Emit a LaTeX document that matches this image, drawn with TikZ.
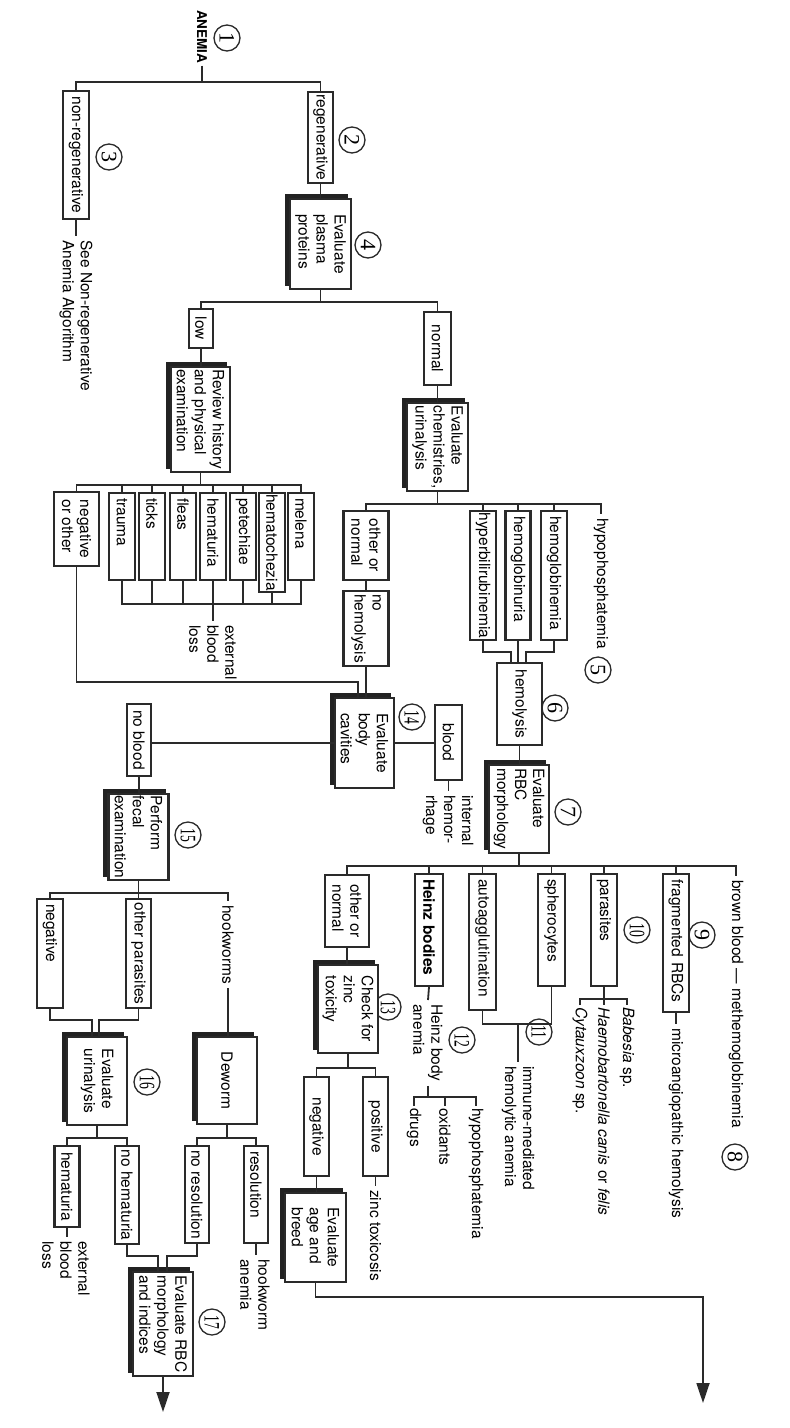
\documentclass[tikz,border=0pt]{standalone}
\usepackage{fontspec}
\setmainfont{TeX Gyre Heros}
\newfontfamily\numfont{Liberation Serif}
\usetikzlibrary{arrows.meta}
\definecolor{ink}{HTML}{2A2A2A}
\definecolor{shd}{HTML}{222222}
\newcommand{\lab}{\fontsize{15.5}{18}\selectfont}
\newcommand{\nf}{\numfont\fontsize{22}{22}\selectfont}
\newcommand{\dd}[1]{\scalebox{0.62}[1]{#1}}
\begin{document}
\begin{tikzpicture}[x=1pt,y=-1pt,
  ln/.style={draw=ink, line width=1.8pt},
  box/.style={draw=ink, line width=2.2pt, fill=white, rotate=-90, inner xsep=3pt, inner ysep=1pt, align=left, font=\lab},
  lbox/.style={box, inner xsep=5pt},
  sbox/.style={box, preaction={fill=shd, draw=shd, transform canvas={shift={(-4pt,4pt)}}}},
  txt/.style={rotate=-90, anchor=west, align=left, inner xsep=4pt, inner ysep=1pt, font=\lab},
  num/.style={circle, draw=ink, line width=1.3pt, minimum size=26pt, inner sep=0pt, rotate=-90, font=\nf},
  tip/.style={-{Triangle[length=20pt,width=13pt]}}
]
\fill[white] (0,0) rectangle (790,1428);
\useasboundingbox (0,0) rectangle (790,1428);

% ---------- top
\node[txt, font=\fontsize{13.5}{16}\selectfont\bfseries, inner xsep=2pt] (anemia) at (202,8) {ANEMIA};
\node[num] (n1) at (227,38) {1};
\coordinate (b1) at (202,82);
\node[box, minimum width=128pt, minimum height=26pt] (nonreg) at (76,155) {non-regenerative};
\node[num] (n3) at (109,157) {3};
\node[txt] (seenr) at (76,236) {See Non-regenerative\\Anemia Algorithm};
\node[box, inner xsep=1.5pt, minimum width=91pt, minimum height=25pt] (reg) at (320.5,137.5) {regenerative};
\node[num] (n2) at (352,140) {2};
\node[sbox, minimum width=90pt, minimum height=61pt] (plasma) at (320.5,244) {Evaluate\\plasma\\proteins};
\node[num] (n4) at (368,245) {4};
\coordinate (b4) at (320.5,302);
\node[box, minimum width=39pt, minimum height=24pt] (low) at (201,328.5) {low};
\node[box, minimum width=73pt, minimum height=27pt] (normal) at (437.5,348.5) {normal};

% ---------- low branch
\node[sbox, inner xsep=1.5pt, minimum width=105pt, minimum height=59pt] (review) at (200.5,419.5) {Review history\\and physical\\examination};
\coordinate (b5) at (200.5,485);
\node[box, minimum width=74pt, minimum height=45pt] (negoth) at (76.5,529) {negative\\or other};
\node[lbox, minimum width=87pt, text width=77pt, minimum height=26pt] (trauma) at (122,536.5) {trauma};
\node[lbox, minimum width=87pt, text width=77pt, minimum height=26pt] (ticks) at (152,536.5) {ticks};
\node[lbox, minimum width=87pt, text width=77pt, minimum height=26pt] (fleas) at (183,536.5) {fleas};
\node[lbox, minimum width=87pt, text width=77pt, minimum height=26pt] (hematuria) at (213,536.5) {hematuria};
\node[lbox, minimum width=87pt, text width=77pt, minimum height=26pt] (petechiae) at (243,536.5) {petechiae};
\node[box, inner xsep=1pt, minimum width=99pt, minimum height=26pt] (hematochezia) at (272,542.5) {hematochezia};
\node[lbox, minimum width=87pt, text width=77pt, minimum height=26pt] (melena) at (301,536.5) {melena};
\coordinate (b6) at (213,604);
\node[txt] (ext1) at (213,621) {external\\blood\\loss};
\coordinate (c1) at (358,682);

% ---------- normal branch
\node[sbox, minimum width=88pt, minimum height=61pt] (chem) at (437.5,447) {Evaluate\\chemistries,\\urinalysis};
\coordinate (b10) at (437.5,504);
\node[box, minimum width=69pt, minimum height=45pt] (oon1) at (366,545.5) {other or\\normal};
\node[box, minimum width=73pt, minimum height=45pt] (nohem) at (366,628.5) {no\\hemolysis};
\node[box, inner xsep=1.5pt, minimum width=129pt, minimum height=26pt] (hyperb) at (483,575.5) {hyperbilirubinemia};
\node[lbox, minimum width=129pt, text width=119pt, minimum height=25pt] (hemu) at (518,575.5) {hemoglobinuria};
\node[lbox, minimum width=129pt, text width=119pt, minimum height=26pt] (hemn) at (554,575.5) {hemoglobinemia};
\node[txt] (hypo) at (601,514) {hypophosphatemia};
\node[num] (n5) at (598,670) {5};
\coordinate (h1) at (511,652);
\coordinate (h2) at (526,652);
\node[box, minimum width=82pt, minimum height=45pt] (hemol) at (519.5,704) {hemolysis};
\node[num] (n6) at (555,708) {6};
\node[sbox, minimum width=88pt, minimum height=60pt] (rbcm) at (519,809) {Evaluate\\RBC\\morphology};
\node[num] (n7) at (568,812) {7};

% ---------- body cavities
\node[sbox, minimum width=90pt, minimum height=59pt] (body) at (364.5,743) {Evaluate\\body\\cavities};
\node[num] (n14) at (412,717) {\dd{14}};
\node[box, minimum width=75pt, minimum height=27pt] (blood) at (448.5,742.5) {blood};
\node[txt] (intern) at (448,791) {internal\\hemor-\\rhage};
\node[box, minimum width=72pt, minimum height=24pt] (noblood) at (139,740) {no blood};
\node[sbox, inner xsep=1pt, minimum width=86pt, minimum height=60pt] (fecal) at (138.5,837) {Perform\\fecal\\examination};
\node[num] (n15) at (188,835) {\dd{15}};
\coordinate (b7) at (138.5,893);
\node[lbox, minimum width=109pt, text width=99pt, minimum height=26pt] (fneg) at (50,953.5) {negative};
\node[box, minimum width=109pt, minimum height=25pt] (opar) at (138.5,953.5) {other parasites};
\node[txt] (hook) at (228,901) {hookworms};
\coordinate (m1) at (92,1020);
\coordinate (m2) at (99,1020);
\node[sbox, minimum width=88pt, minimum height=60pt] (urin) at (97,1081) {Evaluate\\urinalysis};
\node[num] (n16) at (147,1082) {\dd{16}};
\coordinate (b8) at (97,1138);
\node[box, minimum width=81pt, minimum height=25pt] (uhem) at (67,1186.5) {hematuria};
\node[box, minimum width=98pt, minimum height=24pt] (unoh) at (127,1195) {no hematuria};
\node[txt] (ext2) at (66,1237) {external\\blood\\loss};
\node[sbox, minimum width=87pt, minimum height=60pt] (deworm) at (227,1080.5) {Deworm};
\coordinate (b9) at (227,1138);
\node[box, minimum width=97pt, minimum height=24pt] (nores) at (197,1194.5) {no resolution};
\node[lbox, minimum width=97pt, text width=87pt, minimum height=24pt] (res) at (256,1194.5) {resolution};
\node[txt] (hwa) at (255,1255) {hookworm\\anemia};
\coordinate (m3) at (158,1256);
\coordinate (m4) at (167,1256);
\node[sbox, minimum width=104pt, minimum height=60pt] (rbci) at (163,1324) {Evaluate RBC\\morphology\\and indices};
\node[num] (n17) at (212,1322) {\dd{17}};
\coordinate (end1) at (163,1412);

% ---------- RBC morphology children
\coordinate (b11) at (519,866);
\node[box, minimum width=72pt, minimum height=44pt] (oon2) at (347,911) {other or\\normal};
\node[lbox, font=\lab\bfseries, minimum width=112pt, text width=102pt, minimum height=28pt] (heinz) at (429,930) {Heinz bodies};
\node[lbox, minimum width=136pt, text width=126pt, minimum height=27pt] (auto) at (482.5,942) {autoagglutination};
\node[lbox, minimum width=112pt, text width=102pt, minimum height=27pt] (spher) at (551.5,930) {spherocytes};
\node[lbox, minimum width=112pt, text width=102pt, minimum height=26pt] (paras) at (604,930) {parasites};
\node[lbox, minimum width=138pt, text width=128pt, minimum height=26pt] (frag) at (676,943) {fragmented RBCs};
\node[txt] (brown) at (736,876) {brown blood --- methemoglobinemia};
\node[num] (n8) at (735,1157) {8};
\node[num] (n9) at (702,935) {9};
\node[num] (n10) at (637,930) {\dd{10}};
\node[txt] (micro) at (676,1024) {microangiopathic hemolysis};
\coordinate (pb) at (604,999);
\node[txt, inner xsep=2pt] (bab) at (627,1005) {\textit{Babesia} sp.};
\node[txt, inner xsep=2pt] (hae) at (604,1005) {\textit{Haemobartonella canis} or \textit{felis}};
\node[txt, inner xsep=2pt] (cyt) at (580,1005) {\textit{Cytauxzoon} sp.};
\coordinate (ia) at (518,1024);
\node[txt] (imm) at (518,1062) {immune-mediated\\hemolytic anemia};
\node[num] (n11) at (539,1032) {\dd{11}};
\node[txt] (hba) at (428,1000) {Heinz body\\anemia};
\coordinate (hb) at (428,1097);
\node[txt, inner xsep=2pt] (drugs) at (414,1106) {drugs};
\node[txt, inner xsep=2pt] (oxid) at (445,1106) {oxidants};
\node[txt, inner xsep=2pt] (hypo2) at (476,1106) {hypophosphatemia};
\node[num] (n12) at (462,1040) {\dd{12}};
\node[num] (n13) at (388,1007) {\dd{13}};
\node[sbox, minimum width=88pt, minimum height=60pt] (zinc) at (348,1009) {Check for\\zinc\\toxicity};
\coordinate (b12) at (348,1068);
\node[box, minimum width=99pt, minimum height=25pt] (zneg) at (316.5,1126.5) {negative};
\node[box, minimum width=99pt, minimum height=25pt] (zpos) at (375.5,1126.5) {positive};
\node[txt] (ztox) at (375.5,1186) {zinc toxicosis};
\node[sbox, minimum width=89pt, minimum height=61pt] (age) at (315.5,1237.5) {Evaluate\\age and\\breed};
\coordinate (a1) at (703,1297);
\coordinate (end2) at (703,1403);

% ---------- connectors
\draw[ln] (anemia.east) -- (b1);
\draw[ln] (nonreg.west) |- (b1) -| (reg.west);
\draw[ln] (nonreg.east) -- (seenr.west);
\draw[ln] (reg.east) -- (reg.east |- plasma.west);
\draw[ln] (plasma.east) -- (b4);
\draw[ln] (low.west) |- (b4) -| (normal.west);
\draw[ln] (low.east) -- (low.east |- review.west);
\draw[ln] (review.east) -- (review.east |- b5);
\draw[ln] (negoth.west) |- (b5) -| (melena.west);
\foreach \nm in {trauma,ticks,fleas,hematuria,petechiae,hematochezia}
  \draw[ln] (\nm.west) -- (\nm.west |- b5);
\draw[ln] (trauma.east) |- (b6) -| (melena.east);
\foreach \nm in {ticks,fleas,hematuria,petechiae,hematochezia}
  \draw[ln] (\nm.east) -- (\nm.east |- b6);
\draw[ln] (b6) -- (ext1.west);
\draw[ln] (negoth.east) |- (c1) -- (c1 |- body.west);

\draw[ln] (normal.east) -- (normal.east |- chem.west);
\draw[ln] (chem.east) -- (b10);
\draw[ln] (oon1.west) |- (b10) -| (hypo.west);
\foreach \nm in {hyperb,hemu,hemn}
  \draw[ln] (\nm.west) -- (\nm.west |- b10);
\draw[ln] (oon1.east) -- (nohem.west);
\draw[ln] (nohem.east) -- (nohem.east |- body.west);
\draw[ln] (hyperb.east) |- (h1) -- (h1 |- hemol.west);
\draw[ln] (hemu.east) -- (hemu.east |- hemol.west);
\draw[ln] (hemn.east) |- (h2) -- (h2 |- hemol.west);
\draw[ln] (hemol.east) -- (hemol.east |- rbcm.west);
\draw[ln] (rbcm.east) -- (rbcm.east |- b11);
\draw[ln] (oon2.west) |- (b11) -| (brown.west);
\foreach \nm in {heinz,auto,spher,paras,frag}
  \draw[ln] (\nm.west) -- (\nm.west |- b11);
\draw[ln] (frag.east) -- (micro.west);
\draw[ln] (paras.east) -- (pb);
\draw[ln] (cyt.west) |- (pb) -| (bab.west);
\draw[ln] (pb) -- (hae.west);
\draw[ln] (auto.east) |- (ia) -| (spher.east);
\draw[ln] (ia) -- (imm.west);
\draw[ln] (heinz.east) -- (hba.west);
\draw[ln] (hba.east) -- (hb);
\draw[ln] (drugs.west) |- (hb) -| (hypo2.west);
\draw[ln] (oxid.west) -- (oxid.west |- hb);
\draw[ln] (oon2.east) -- (oon2.east |- zinc.west);
\draw[ln] (zinc.east) -- (b12);
\draw[ln] (zneg.west) |- (b12) -| (zpos.west);
\draw[ln] (zpos.east) -- (ztox.west);
\draw[ln] (zneg.east) -- (zneg.east |- age.west);
\draw[ln, tip] (age.east) |- (a1) -- (end2);

\draw[ln] (body.north) -- (body.north -| blood.south);
\draw[ln] (blood.east) -- (blood.east |- intern.west);
\draw[ln] (body.south) -- (body.south -| noblood.north);
\draw[ln] (noblood.east) -- (noblood.east |- fecal.west);
\draw[ln] (fecal.east) -- (fecal.east |- b7);
\draw[ln] (fneg.west) |- (b7) -| (hook.west);
\draw[ln] (opar.west) -- (opar.west |- b7);
\draw[ln] (hook.east) -- (hook.east |- deworm.west);
\draw[ln] (fneg.east) |- (m1) -- (m1 |- urin.west);
\draw[ln] (opar.east) |- (m2) -- (m2 |- urin.west);
\draw[ln] (urin.east) -- (urin.east |- b8);
\draw[ln] (uhem.west) |- (b8) -| (unoh.west);
\draw[ln] (uhem.east) -- (uhem.east |- ext2.west);
\draw[ln] (deworm.east) -- (deworm.east |- b9);
\draw[ln] (nores.west) |- (b9) -| (res.west);
\draw[ln] (res.east) -- (res.east |- hwa.west);
\draw[ln] (unoh.east) |- (m3) -- (m3 |- rbci.west);
\draw[ln] (nores.east) |- (m4) -- (m4 |- rbci.west);
\draw[ln, tip] (rbci.east) -- (rbci.east |- end1);
\end{tikzpicture}
\end{document}
